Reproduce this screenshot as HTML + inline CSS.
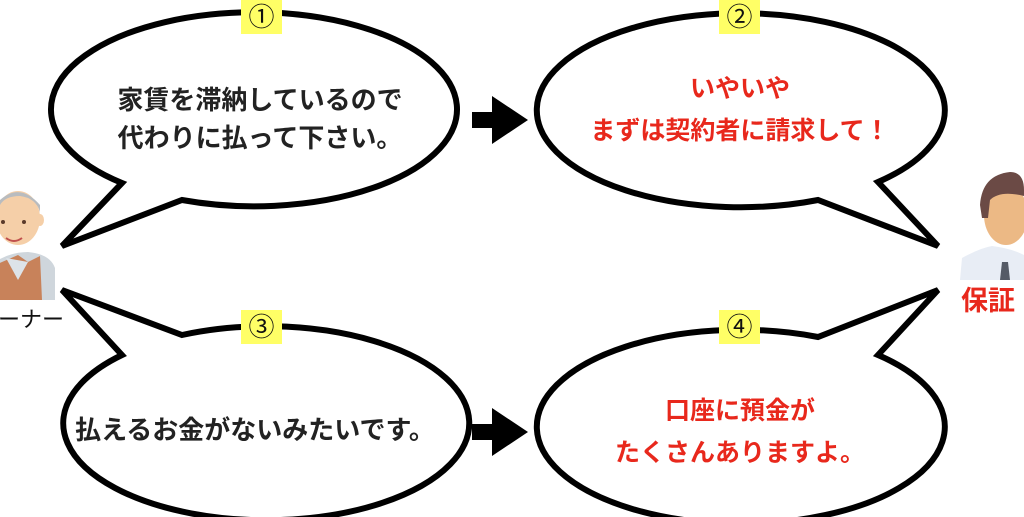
<!DOCTYPE html>
<html><head><meta charset="utf-8"><style>
body{margin:0;width:1024px;height:517px;overflow:hidden;background:#fff;position:relative;font-family:"Liberation Sans","Noto Sans CJK JP",sans-serif}
.t{position:absolute;font-weight:bold;text-align:center;white-space:nowrap}
.b{position:absolute;background:#ffff66;width:41px;height:34px;font-size:26px;line-height:34px;text-align:center;color:#111}
</style></head><body>
<svg width="1024" height="517" style="position:absolute;left:0;top:0">
<g fill="#fff" stroke="#000" stroke-width="6" stroke-linejoin="miter">
<path d="M122,183 L62,246 L182,200 A203,97 0 1 0 122,183 Z"/>
<path d="M122,355 L62,290 L182,335 A203,97 0 1 1 122,355 Z"/>
<path d="M878,182 L938,246 L818,200 A204,97 0 1 1 878,182 Z"/>
<path d="M878,355 L938,290 L818,337 A204,97 0 1 0 878,355 Z"/>
</g>
<g fill="#000">
<path d="M472,112 h20 v-16 l36,24 l-36,24 v-16 h-20z"/>
<path d="M472,424 h20 v-16 l36,24 l-36,24 v-16 h-20z"/>
</g>
<g>
<path d="M-5,300 L-5,262 Q10,252 28,252 Q50,254 55,268 L55,300 Z" fill="#cfd6dc"/>
<path d="M-5,300 L-5,265 L18,255 L28,262 L40,256 L42,300 Z" fill="#c8825a"/>
<path d="M6,258 L18,280 L28,262 Z" fill="#dde3e8"/>
<ellipse cx="18" cy="218" rx="22" ry="27" fill="#f5cfa8"/>
<path d="M0,200 Q20,182 40,205 L40,212 Q36,198 20,196 Q5,196 0,205Z" fill="#b9bcbf"/>
<ellipse cx="40" cy="220" rx="4" ry="6" fill="#f5cfa8"/>
<circle cx="3" cy="222" r="2" fill="#5a3a2a"/><circle cx="24" cy="222" r="2" fill="#5a3a2a"/>
<path d="M6,238 Q14,244 22,238" stroke="#c0504d" stroke-width="2" fill="none"/>
</g>
<g>
<path d="M960,280 L962,258 Q980,248 992,246 Q1010,248 1024,255 L1024,280 Z" fill="#e8edf5"/>
<path d="M1002,262 L1008,262 L1010,280 L1000,280 Z" fill="#555b66"/>
<ellipse cx="1006" cy="215" rx="22" ry="30" fill="#ecb985"/>
<path d="M980,205 Q982,175 1010,172 Q1024,172 1024,190 L1024,196 Q1000,190 990,200 L988,218 L982,218 Z" fill="#6b4a45"/>
</g>
</svg>
<div class="b" style="left:241px;top:0">①</div>
<div class="b" style="left:719px;top:0">②</div>
<div class="b" style="left:241px;top:310px">③</div>
<div class="b" style="left:719px;top:310px">④</div>
<div class="t" style="left:60px;width:400px;top:81px;font-size:26px;line-height:38px;color:#222">家賃を滞納しているので<br>代わりに払って下さい。</div>
<div class="t" style="left:55px;width:400px;top:412px;font-size:26px;line-height:36px;color:#222">払えるお金がないみたいです。</div>
<div class="t" style="left:540px;width:400px;top:68px;font-size:25px;line-height:42px;color:#e8281c">いやいや<br>まずは契約者に請求して！</div>
<div class="t" style="left:540px;width:400px;top:390px;font-size:25px;line-height:42px;color:#e8281c">口座に預金が<br>たくさんありますよ。</div>
<div class="t" style="left:-2px;top:305px;font-size:22px;line-height:30px;color:#111;font-weight:normal">ーナー</div>
<div class="t" style="left:961px;top:284px;font-size:27px;line-height:34px;color:#e8281c">保証</div>
</body></html>
